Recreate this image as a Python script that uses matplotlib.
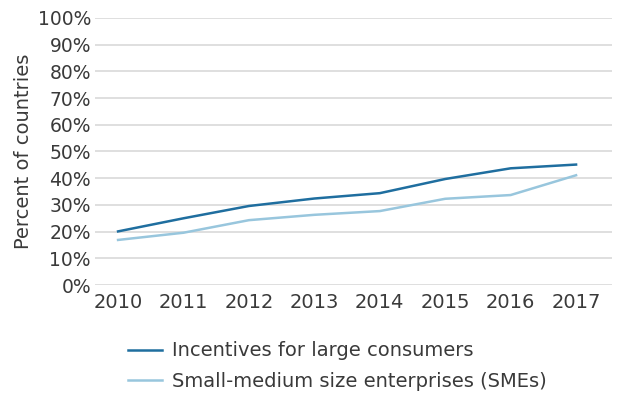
import matplotlib
matplotlib.use("Agg")
import matplotlib.pyplot as plt
from matplotlib.ticker import PercentFormatter

plt.rcParams['font.family'] = ['DejaVu Sans']

years = ['2010', '2011', '2012', '2013', '2014', '2015', '2016', '2017']
large = [20.1, 25.0, 29.6, 32.4, 34.4, 39.7, 43.7, 45.1]
smes = [16.9, 19.6, 24.3, 26.3, 27.7, 32.3, 33.7, 41.1]

txt = '#3a3a3a'
grid = '#d9d9d9'

fig = plt.figure(figsize=(6.22, 3.96), dpi=100)
ax = fig.add_axes([0.153, 0.280, 0.831, 0.675])

x = range(len(years))
ax.plot(x, large, color='#1f6e9f', lw=1.8, label='Incentives for large consumers')
ax.plot(x, smes, color='#98c6dd', lw=1.8, label='Small-medium size enterprises (SMEs)')

ax.set_ylim(0, 100)
ax.set_yticks(range(0, 101, 10))
ax.yaxis.set_major_formatter(PercentFormatter(decimals=0))
ax.set_xticks(list(x))
ax.set_xticklabels(years)
ax.set_xlim(-0.35, 7.55)

ax.grid(axis='y', color=grid, lw=1.2)
ax.set_axisbelow(True)
for s in ax.spines.values():
    s.set_visible(False)
ax.tick_params(axis='y', length=0, labelsize=13.5, labelcolor=txt, pad=3)
ax.tick_params(axis='x', length=0, labelsize=14, labelcolor=txt, pad=6)
ax.set_ylabel('Percent of countries', fontsize=14, color=txt, labelpad=3)

fig.legend(loc='upper left', bbox_to_anchor=(0.205, 0.138), frameon=False,
           fontsize=14, labelcolor=txt, handlelength=1.75, handletextpad=0.55,
           labelspacing=0.6, borderaxespad=0, borderpad=0)

fig.savefig('out.png', dpi=100)
